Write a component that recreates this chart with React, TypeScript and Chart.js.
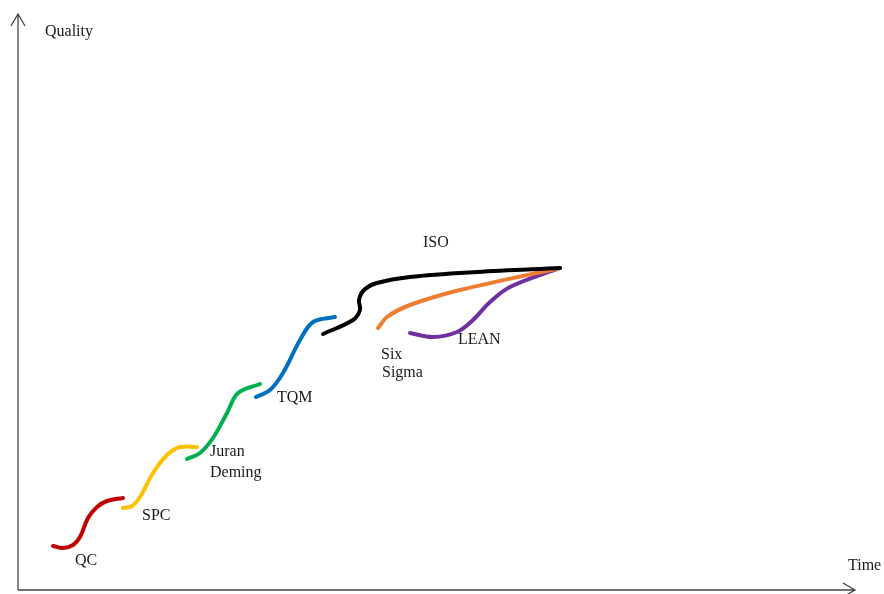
import React, { useEffect, useRef } from "react";
import { Chart, registerables } from "chart.js";

Chart.register(...registerables);

// Curves (x = time, y = quality), arbitrary units
const qcX = [35, 45, 55, 62, 70, 79, 89, 105];
const qcY = [44, 42, 45, 53, 72, 83, 89, 92];
const spcX = [105, 114, 122, 135, 149, 162, 179];
const spcY = [82, 84, 93, 117, 135, 143, 143];
const jdX = [169, 182, 195, 209, 220, 242];
const jdY = [131, 137, 152, 177, 197, 206];
const tqmX = [238, 252, 265, 282, 295, 317];
const tqmY = [193, 200, 217, 250, 268, 273];
const isoX = [305, 335, 342, 341, 346, 359, 392, 459, 542];
const isoY = [256, 270, 280, 290, 300, 307, 313, 318, 322];
const sixX = [360, 369, 392, 442, 542];
const sixY = [262, 273, 285, 300, 322];
const leanX = [392, 415, 439, 455, 472, 492, 542];
const leanY = [257, 253, 258, 270, 288, 303, 322];

const seriesNames = ["QC", "SPC", "Juran Deming", "TQM", "ISO", "Six Sigma", "LEAN"];
const seriesColors = ["#C00000", "#FFC000", "#00B050", "#0070C0", "#000000", "#ED7D31", "#7030A0"];

// Text labels
const labelTexts = ["QC", "SPC", "Juran", "Deming", "TQM", "ISO", "Six", "Sigma", "LEAN", "Quality", "Time"];
const labelX = [57, 124, 192, 192, 259, 405, 363, 364, 440, 27, 830];
const labelY = [29, 74, 138, 117, 192, 347, 235, 217, 250, 558, 24];

const X_MAX = 837;
const Y_MAX = 576;

const zip = (xs: number[], ys: number[]) => xs.map((x, i) => ({ x, y: ys[i] }));

export default function App() {
  const ref = useRef<HTMLCanvasElement | null>(null);

  useEffect(() => {
    document.body.style.margin = "0";
    const canvas = ref.current;
    if (!canvas) return;
    const allX = [qcX, spcX, jdX, tqmX, isoX, sixX, leanX];
    const allY = [qcY, spcY, jdY, tqmY, isoY, sixY, leanY];

    const decor = {
      id: "decor",
      afterDraw(chart: any) {
        const ctx = chart.ctx;
        const xs = chart.scales.x;
        const ys = chart.scales.y;
        const x0 = xs.getPixelForValue(0);
        const y0 = ys.getPixelForValue(0);
        const xEnd = xs.getPixelForValue(X_MAX);
        const yEnd = ys.getPixelForValue(Y_MAX);
        ctx.save();
        ctx.strokeStyle = "#444";
        ctx.lineWidth = 1.3;
        ctx.beginPath();
        ctx.moveTo(x0, y0);
        ctx.lineTo(x0, yEnd);
        ctx.moveTo(x0 - 7, yEnd + 12);
        ctx.lineTo(x0, yEnd);
        ctx.lineTo(x0 + 7, yEnd + 12);
        ctx.moveTo(x0, y0);
        ctx.lineTo(xEnd, y0);
        ctx.moveTo(xEnd - 12, y0 - 7);
        ctx.lineTo(xEnd, y0);
        ctx.lineTo(xEnd - 12, y0 + 7);
        ctx.stroke();

        ctx.fillStyle = "#1a1a1a";
        ctx.font = "16px 'Liberation Serif', 'Times New Roman', serif";
        ctx.textAlign = "left";
        ctx.textBaseline = "middle";
        labelTexts.forEach((t, i) => {
          ctx.fillText(t, xs.getPixelForValue(labelX[i]), ys.getPixelForValue(labelY[i]));
        });
        ctx.restore();
      },
    };

    const chart = new Chart(canvas, {
      type: "scatter",
      data: {
        datasets: seriesNames.map((name, i) => ({
          label: name,
          data: zip(allX[i], allY[i]),
          showLine: true,
          borderColor: seriesColors[i],
          backgroundColor: seriesColors[i],
          borderWidth: 4,
          pointRadius: 0,
          tension: 0.35,
          borderCapStyle: "round" as const,
        })),
      },
      options: {
        animation: false,
        responsive: false,
        maintainAspectRatio: false,
        layout: { padding: { left: 18, right: 29, top: 14, bottom: 4 } },
        plugins: { legend: { display: false }, tooltip: { enabled: false } },
        scales: {
          x: { type: "linear", min: 0, max: X_MAX, display: false },
          y: { type: "linear", min: 0, max: Y_MAX, display: false },
        },
      },
      plugins: [decor],
    });
    return () => chart.destroy();
  }, []);

  return (
    <div style={{ position: "fixed", left: 0, top: 0, width: 884, height: 594, background: "#fff" }}>
      <canvas ref={ref} width={884} height={594} style={{ width: 884, height: 594 }} />
    </div>
  );
}
